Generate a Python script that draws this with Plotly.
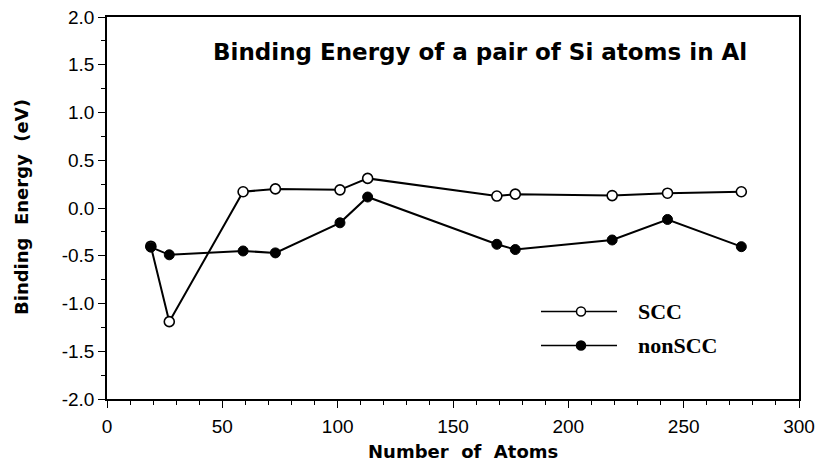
import plotly.graph_objects as go

atoms_scc = [19, 27, 59, 73, 101, 113, 169, 177, 219, 243, 275]
scc = [-0.40, -1.19, 0.17, 0.20, 0.19, 0.31, 0.125, 0.145, 0.13, 0.155, 0.17]
atoms_non = [19, 27, 59, 73, 101, 113, 169, 177, 219, 243, 275]
nonscc = [-0.41, -0.49, -0.45, -0.47, -0.155, 0.115, -0.38, -0.435, -0.335, -0.12, -0.405]

y_ticks = [-2, -1.5, -1, -0.5, 0, 0.5, 1, 1.5, 2]
y_ticktext = ["-2.0", "-1.5", "-1.0", "-0.5", "0.0", "0.5", "1.0", "1.5", "2.0"]
x_ticks = [0, 50, 100, 150, 200, 250, 300]

title_text = "Binding Energy of a pair of Si atoms in Al"
x_title = "Number  of  Atoms"
y_title = "Binding  Energy  (eV)"
series_names = ["SCC", "nonSCC"]

fig = go.Figure()
fig.add_trace(go.Scatter(x=atoms_scc, y=scc, mode="lines+markers", name=series_names[0],
                         line=dict(color="black", width=2),
                         marker=dict(symbol="circle", size=10, color="white",
                                     line=dict(color="black", width=1.6)),
                         showlegend=False))
fig.add_trace(go.Scatter(x=atoms_non, y=nonscc, mode="lines+markers", name=series_names[1],
                         line=dict(color="black", width=2),
                         marker=dict(symbol="circle", size=10, color="black",
                                     line=dict(color="black", width=1)),
                         showlegend=False))

# body margin removed via post_script, so figure pixels == window pixels
W, H = 820, 462
L, R, T, B = 107, 799, 17, 399
def px(x):
    return (x - L) / (R - L)
def py(y):
    return (B - y) / (B - T)

bold_sans = "DejaVu Sans, Liberation Sans, Arial, sans-serif"
shapes = []
annotations = []
for i, (name, fill) in enumerate(zip(series_names, ["white", "black"])):
    yy = 311.5 + i * 34
    shapes.append(dict(type="line", xref="paper", yref="paper",
                       x0=px(541), x1=px(617), y0=py(yy), y1=py(yy),
                       line=dict(color="black", width=1.3)))
    r = 4.5
    shapes.append(dict(type="circle", xref="paper", yref="paper",
                       x0=px(581 - r), x1=px(581 + r), y0=py(yy + r), y1=py(yy - r),
                       fillcolor=fill, line=dict(color="black", width=1.5)))
    annotations.append(dict(text=name, xref="paper", yref="paper", x=px(636), y=py(yy),
                            xanchor="left", yanchor="middle", showarrow=False,
                            font=dict(family="Liberation Serif, Times New Roman, serif",
                                      size=22, color="black", weight="bold")))

annotations.append(dict(text=title_text, xref="paper", yref="paper",
                        x=px(480), y=py(52), xanchor="center", yanchor="middle",
                        showarrow=False,
                        font=dict(family=bold_sans, size=23, color="black", weight="bold")))
annotations.append(dict(text=x_title, xref="paper", yref="paper",
                        x=px(463), y=py(451), xanchor="center", yanchor="middle",
                        showarrow=False,
                        font=dict(family=bold_sans, size=18, color="black", weight="bold")))
annotations.append(dict(text=y_title, xref="paper", yref="paper",
                        x=px(21), y=py(207), xanchor="center", yanchor="middle",
                        showarrow=False, textangle=-90,
                        font=dict(family=bold_sans, size=18, color="black", weight="bold")))

fig.update_layout(
    width=W, height=H,
    margin=dict(l=L, r=W - R, t=T, b=H - B),
    paper_bgcolor="white", plot_bgcolor="white",
    shapes=shapes, annotations=annotations,
    font=dict(family="Liberation Sans, Arial, sans-serif", size=19, color="black"),
    xaxis=dict(range=[0, 300], tickvals=x_ticks, automargin=False,
               ticks="outside", ticklen=7, tickwidth=1.3, tickcolor="black",
               minor=dict(dtick=10, ticks="outside", ticklen=4, tickwidth=1, tickcolor="black"),
               showline=True, linecolor="black", linewidth=1.5, mirror=True,
               showgrid=False, zeroline=False, ticklabelstandoff=2,
               ticklabeloverflow="allow", tickfont=dict(size=19)),
    yaxis=dict(range=[-2, 2], tickvals=y_ticks, ticktext=y_ticktext, automargin=False,
               ticks="outside", ticklen=7, tickwidth=1.3, tickcolor="black",
               minor=dict(dtick=0.25, ticks="outside", ticklen=4, tickwidth=1, tickcolor="black"),
               showline=True, linecolor="black", linewidth=1.5, mirror=True,
               showgrid=False, zeroline=False,
               ticklabeloverflow="allow", tickfont=dict(size=19)),
)

fig.write_html("out.html", config={"displayModeBar": False},
               post_script="document.body.style.margin='0';document.body.style.overflow='hidden';")
